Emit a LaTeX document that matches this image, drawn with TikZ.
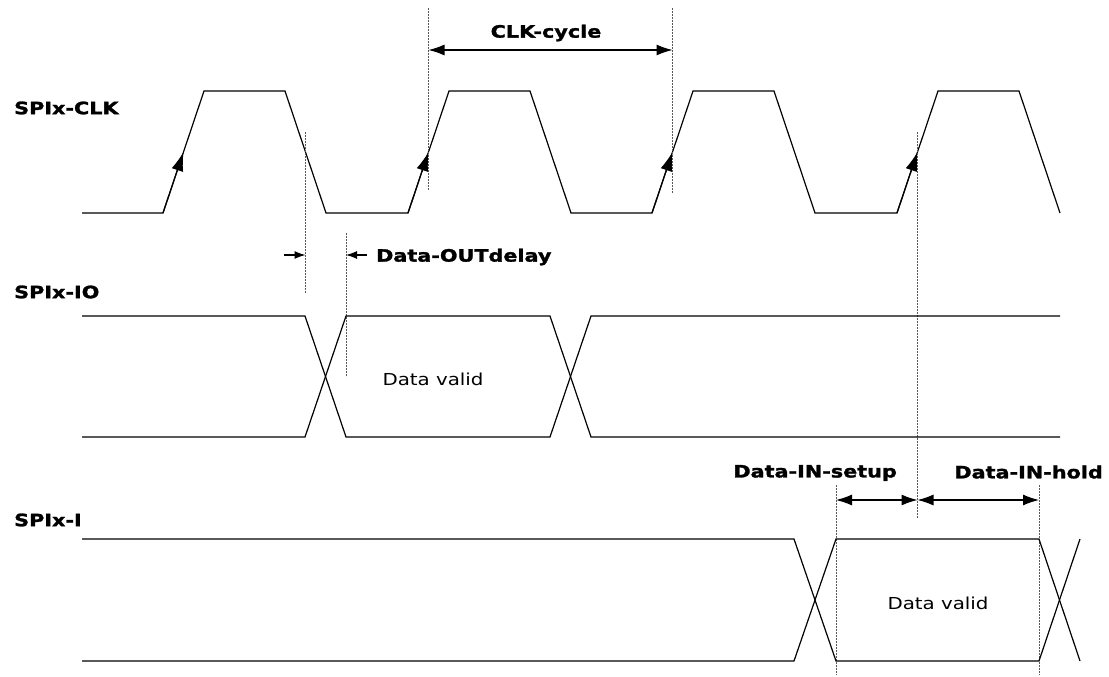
\documentclass[tikz,border=0pt]{standalone}
\usepackage{fontspec}
\newfontfamily\lblfont{DejaVu Sans Bold}[FakeStretch=1.22, FakeBold=1.6]
\newfontfamily\txtfont{DejaVu Sans}[FakeStretch=1.2]
\usetikzlibrary{arrows.meta}
\tikzset{
  sig/.style={line width=1.2pt, line join=miter},
  guide/.style={gray!70!black, line width=0.8pt, dash pattern=on 2pt off 1pt},
  lbl/.style={font=\lblfont\fontsize{17}{20}\selectfont, inner sep=0pt},
  txt/.style={font=\txtfont\fontsize{16.5}{20}\selectfont, inner sep=0pt},
  edgearr/.style={-{Latex[length=19pt,width=12pt]}, line width=1.2pt},
  dim/.style={{Latex[length=16pt,width=11pt]}-{Latex[length=16pt,width=11pt]}, line width=1.1pt},
  small/.style={-{Latex[length=11pt,width=8pt]}, line width=1.1pt}
}
\begin{document}
\begin{tikzpicture}[x=1pt,y=-1pt]
\useasboundingbox (0,0) rectangle (1109,677);
\fill[white] (0,0) rectangle (1109,677);

% labels
\node[lbl, anchor=west] (lclk) at (14,108) {SPIx-CLK};
\node[lbl, anchor=west] (lio) at (14,292) {SPIx-IO};
\node[lbl, anchor=west] (li) at (14,520) {SPIx-I};

% clock waveform
\draw[sig] (82,213) -- (163,213) -- (204,91) -- (285,91) -- (326,213) -- (408,213)
  -- (449,91) -- (530,91) -- (571,213) -- (652,213) -- (693,91) -- (774,91)
  -- (815,213) -- (897,213) -- (938,91) -- (1019,91) -- (1060,213);

% rising edge arrows
\coordinate (r1s) at (163,213); \coordinate (r1m) at (183.5,152);
\coordinate (r2s) at (408,213); \coordinate (r2m) at (428.5,152);
\coordinate (r3s) at (652,213); \coordinate (r3m) at (672.5,152);
\coordinate (r4s) at (897,213); \coordinate (r4m) at (917.5,152);
\draw[edgearr] (r1s) -- (r1m);
\draw[edgearr] (r2s) -- (r2m);
\draw[edgearr] (r3s) -- (r3m);
\draw[edgearr] (r4s) -- (r4m);

% guide lines
\coordinate (g1a) at (428.5,8);   \coordinate (g1b) at (428.5,190);
\coordinate (g2a) at (672.5,8);   \coordinate (g2b) at (672.5,193);
\coordinate (g3a) at (305.5,132); \coordinate (g3b) at (305.5,293);
\coordinate (g4a) at (346,233);   \coordinate (g4b) at (346,377);
\coordinate (g5a) at (917.5,132); \coordinate (g5b) at (917.5,518);
\coordinate (g6a) at (836,485);   \coordinate (g6b) at (836,675);
\coordinate (g7a) at (1039,485);  \coordinate (g7b) at (1039,675);
\foreach \g in {g1,g2,g3,g4,g5,g6,g7} \draw[guide] (\g a) -- (\g b);

% CLK-cycle
\coordinate (cc1) at (428.5,50); \coordinate (cc2) at (672.5,50);
\draw[dim] (cc1) -- (cc2);
\node[lbl] (tcc) at (546,33) {CLK-cycle};

% Data-OUT delay
\coordinate (od1) at (284,255); \coordinate (od2) at (305.5,255);
\coordinate (od3) at (367,255); \coordinate (od4) at (346,255);
\draw[small] (od1) -- (od2);
\draw[small] (od3) -- (od4);
\node[lbl, anchor=west] (tod) at (376,257) {Data-OUTdelay};

% SPIx-IO waveform
\draw[sig] (82,316) -- (305,316) -- (346,437) -- (550,437) -- (591,316) -- (1060,316);
\draw[sig] (82,437) -- (305,437) -- (346,316) -- (550,316) -- (591,437) -- (1060,437);
\node[txt] (dv1) at (433,379) {Data valid};

% setup / hold
\coordinate (s1) at (836,500); \coordinate (s2) at (917.5,500); \coordinate (s3) at (1039,500);
\draw[dim] (s1) -- (s2);
\draw[dim] (s2) -- (s3);
\node[lbl, anchor=east] (tsu) at (897,473) {Data-IN-setup};
\node[lbl, anchor=east] (tho) at (1103,472) {Data-IN-hold};

% SPIx-I waveform
\draw[sig] (82,539) -- (794,539) -- (836,661) -- (1039,661) -- (1080,539);
\draw[sig] (82,661) -- (794,661) -- (836,539) -- (1039,539) -- (1080,661);
\node[txt] (dv2) at (938,603) {Data valid};
\end{tikzpicture}
\end{document}
